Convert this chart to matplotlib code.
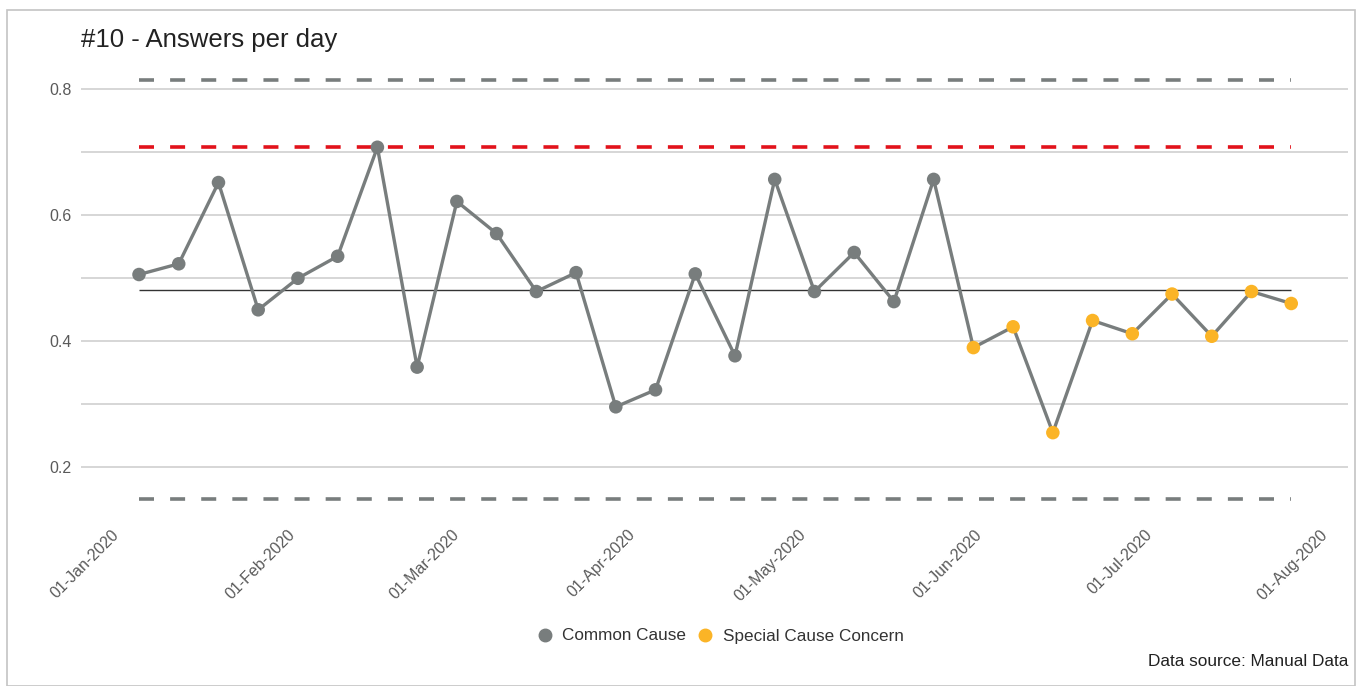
import datetime as dt
import matplotlib
matplotlib.use("Agg")
import matplotlib.pyplot as plt
import matplotlib.dates as mdates
from matplotlib.lines import Line2D
from matplotlib.patches import Rectangle

plt.rcParams["font.family"] = ["Liberation Sans", "DejaVu Sans"]
plt.rcParams["lines.scale_dashes"] = False

# Weekly answers-per-day figures
week_start = dt.date(2020, 1, 5)
n_weeks = 30
dates = [week_start + dt.timedelta(days=7 * i) for i in range(n_weeks)]
values = [0.506, 0.523, 0.652, 0.450, 0.500, 0.535, 0.708, 0.359, 0.622, 0.571,
          0.479, 0.509, 0.296, 0.323, 0.507, 0.377, 0.657, 0.479, 0.541, 0.463,
          0.657, 0.390, 0.423, 0.255, 0.433, 0.412, 0.475, 0.408, 0.479, 0.460]
status = ["C", "C", "C", "C", "C", "C", "C", "C", "C", "C",
          "C", "C", "C", "C", "C", "C", "C", "C", "C", "C",
          "C", "S", "S", "S", "S", "S", "S", "S", "S", "S"]

# Control chart reference lines
mean_line = 0.481
upper_limit = 0.815
lower_limit = 0.150
target_line = 0.708

title = "#10 - Answers per day"
legend_labels = ["Common Cause", "Special Cause Concern"]
source_note = "Data source: Manual Data"

GREY = "#787d7d"
ORANGE = "#fbb426"
RED = "#e2121b"

W, H = 1356, 686
fig = plt.figure(figsize=(W / 100, H / 100), dpi=100)

# outer chart frame
fig.patches.append(Rectangle((7 / W, 0), (1355 - 7) / W, 1 - 10 / H,
                             transform=fig.transFigure, fill=False,
                             edgecolor="#c4c4c4", lw=1.2))

ax_l, ax_r, ax_t, ax_b = 81, 1348, 70.4, 511.4
ax = fig.add_axes([ax_l / W, 1 - ax_b / H, (ax_r - ax_l) / W, (ax_b - ax_t) / H])

x0 = mdates.date2num(dates[0])
ax.set_xlim(x0 - 10.22, x0 + 213.0)
ax.set_ylim(0.13, 0.83)

for s in ax.spines.values():
    s.set_visible(False)

ax.set_yticks([0.2, 0.4, 0.6, 0.8])
ax.set_yticks([0.3, 0.5, 0.7], minor=True)
ax.grid(True, axis="y", which="both", color="#cccccc", lw=1.1)
ax.set_axisbelow(True)
ax.tick_params(axis="y", which="both", length=0, pad=7, labelsize=11.5,
               labelcolor="#5a5a5a")
ax.yaxis.set_major_formatter(matplotlib.ticker.FormatStrFormatter("%.1f"))

ax.xaxis.set_major_locator(mdates.MonthLocator())
ax.xaxis.set_major_formatter(mdates.DateFormatter("%d-%b-%Y"))
ax.tick_params(axis="x", length=0, pad=15, labelsize=11.5, labelcolor="#5a5a5a")
for lab in ax.get_xticklabels():
    lab.set_rotation(45)
    lab.set_ha("right")
    lab.set_va("center")
    lab.set_rotation_mode("anchor")

# reference lines
dash = (0, (10.8, 11.6))
ax.hlines(upper_limit, dates[0], dates[-1], colors=GREY, lw=2.6,
          linestyles=[dash], capstyle="butt", zorder=2)
ax.hlines(lower_limit, dates[0], dates[-1], colors=GREY, lw=2.6,
          linestyles=[dash], capstyle="butt", zorder=2)
ax.hlines(target_line, dates[0], dates[-1], colors=RED, lw=2.6,
          linestyles=[dash], capstyle="butt", zorder=2)
ax.hlines(mean_line, dates[0], dates[-1], colors="#333333", lw=1.0, zorder=2)

# series line and status-coloured points
ax.plot(dates, values, color=GREY, lw=2.4, zorder=3, solid_joinstyle="round")
colors = [GREY if s == "C" else ORANGE for s in status]
ax.scatter(dates, values, s=95, c=colors, zorder=4, linewidths=0)

fig.text(81 / W, 1 - 47 / H, title, fontsize=18.5, color="#222222",
         ha="left", va="baseline")

handles = [Line2D([], [], marker="o", ls="none", color=GREY, markersize=9),
           Line2D([], [], marker="o", ls="none", color=ORANGE, markersize=9)]
fig.legend(handles, legend_labels, loc="center", ncol=2, frameon=False,
           bbox_to_anchor=(720 / W, 1 - 636 / H), fontsize=12.3,
           labelcolor="#333333", handletextpad=0.55, columnspacing=0.6,
           handlelength=1.0)

fig.text(1348 / W, 1 - 662 / H, source_note, fontsize=12.4, color="#222222",
         ha="right", va="center")

fig.savefig("out.png", dpi=100, facecolor="white")
